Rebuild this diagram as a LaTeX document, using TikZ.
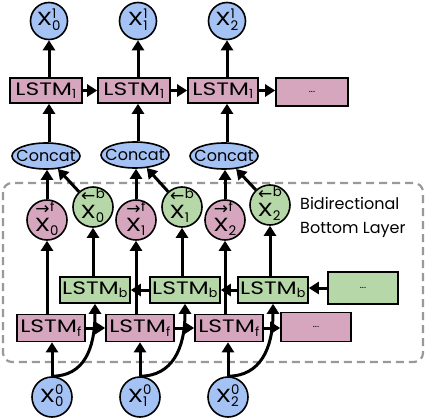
\documentclass[tikz,border=0pt]{standalone}
\usepackage{fontspec}
\setmainfont{Poppins}
\newfontfamily\djv{DejaVu Sans}
\usepackage{amsmath}
\usetikzlibrary{arrows.meta,shapes.geometric}
\definecolor{cblue}{HTML}{A4C2F4}
\definecolor{cpink}{HTML}{D5A6BD}
\definecolor{cgreen}{HTML}{B6D7A8}
\definecolor{cgray}{HTML}{999999}
\newcommand{\XX}{\text{\scalebox{1.3}[1]{X}}}
\newcommand{\inside}[2]{\raisebox{-#1}[0pt][0pt]{\makebox[0pt]{#2}}}
\newcommand{\xl}[3]{$#1^{\text{#2}}_{\text{#3}}$}
\newcommand{\arX}[1]{\shortstack{{\djv\fontsize{17}{17}\selectfont #1}\\\XX}}
\newcommand{\xr}{\text{\arX{→}}}
\newcommand{\xb}{\text{\arX{←}}}
\newcommand{\lstm}[1]{\scalebox{1.3}[1]{LSTM}$_{\text{#1}}$}
\begin{document}
\begin{tikzpicture}[x=1pt,y=-1pt,
  every node/.style={font=\fontsize{16}{24}\selectfont, inner sep=0pt},
  circ/.style={circle,draw,line width=1.6pt,minimum size=38pt,font=\fontsize{19}{22}\selectfont},
  bluec/.style={circ,fill=cblue},
  pinkc/.style={circ,fill=cpink},
  greenc/.style={circ,fill=cgreen},
  box/.style={draw,line width=1.6pt,rectangle,minimum width=72pt,minimum height=25pt,font=\fontsize{18}{22}\selectfont},
  pinkb/.style={box,fill=cpink},
  greenb/.style={box,fill=cgreen},
  cat/.style={ellipse,draw,line width=1.6pt,fill=cblue,inner xsep=-10pt,inner ysep=-3pt,minimum width=68pt,minimum height=26pt},
  arr/.style={line width=3pt,-{Triangle[length=10pt,width=12pt]}},
]
\useasboundingbox (0,0) rectangle (426,420);
% dashed region
\draw[cgray, line width=2.2pt, dash pattern=on 8pt off 5pt, rounded corners=9pt] (3,183) rectangle (423,362);

% top outputs
\node[bluec,minimum size=37pt] (t0) at (49,21) {\inside{5pt}{\xl{\XX}{1}{0}}};
\node[bluec,minimum size=37pt] (t1) at (138,21) {\inside{5pt}{\xl{\XX}{1}{1}}};
\node[bluec,minimum size=37pt] (t2) at (227,21) {\inside{5pt}{\xl{\XX}{1}{2}}};

% LSTM1 row
\node[pinkb] (l10) at (46,90.5) {\lstm{1}};
\node[pinkb] (l11) at (134,90.5) {\lstm{1}};
\node[pinkb,minimum width=70pt] (l12) at (223,90.5) {\lstm{1}};
\node[pinkb,minimum height=28pt] (l13) at (312,92) {\fontsize{10}{12}\selectfont ...};

% concat
\node[cat] (c0) at (46,156) {Concat};
\node[cat] (c1) at (135,155) {Concat};
\node[cat] (c2) at (224,156) {Concat};

% forward / backward states
\node[pinkc,minimum size=40pt] (f0) at (47,220) {\inside{11pt}{\xl{\xr}{f}{0}}};
\node[greenc,minimum size=40pt] (b0) at (93,207) {\inside{11pt}{\xl{\xb}{b}{0}}};
\node[pinkc,minimum size=40pt] (f1) at (136,220) {\inside{11pt}{\xl{\xr}{f}{1}}};
\node[greenc,minimum size=40pt] (b1) at (182,207) {\inside{11pt}{\xl{\xb}{b}{1}}};
\node[pinkc,minimum size=40pt] (f2) at (225,220) {\inside{11pt}{\xl{\xr}{f}{2}}};
\node[greenc,minimum size=40pt] (b2) at (270,205) {\inside{11pt}{\xl{\xb}{b}{2}}};

\node[anchor=west,align=left] (lbl) at (300,217) {Bidirectional\\Bottom Layer};

% backward LSTM row
\node[greenb,minimum width=70pt,minimum height=26pt] (lb0) at (95,290) {\lstm{b}};
\node[greenb,minimum width=70pt,minimum height=26pt] (lb1) at (185,290) {\lstm{b}};
\node[greenb,minimum width=70pt,minimum height=26pt] (lb2) at (273,290) {\lstm{b}};
\node[greenb,minimum width=70pt,minimum height=32pt] (lb3) at (363,288) {\fontsize{10}{12}\selectfont ...};

% forward LSTM row
\node[pinkb,minimum width=68pt,minimum height=27pt] (lf0) at (51,328) {\lstm{f}};
\node[pinkb,minimum width=68pt,minimum height=27pt] (lf1) at (140,328) {\lstm{f}};
\node[pinkb,minimum width=68pt,minimum height=27pt] (lf2) at (229,328) {\lstm{f}};
\node[pinkb,minimum width=70pt,minimum height=29pt] (lf3) at (316,327) {\fontsize{10}{12}\selectfont ...};

% inputs
\node[bluec,minimum size=40pt] (x0) at (52,397) {\inside{5pt}{\xl{\XX}{0}{0}}};
\node[bluec,minimum size=40pt] (x1) at (140,397) {\inside{5pt}{\xl{\XX}{0}{1}}};
\node[bluec,minimum size=40pt] (x2) at (228,397) {\inside{5pt}{\xl{\XX}{0}{2}}};

% connectors
\foreach \i in {0,1,2}{
  \draw[arr] (x\i.north) -- (x\i.north |- lf\i.south);
  \draw[arr] (x\i.north) .. controls +(32,0) and +(0,45) .. (lb\i.south);
  \draw[arr] (lf\i.north -| f\i) -- (f\i);
  \draw[arr] (lb\i.north -| b\i) -- (b\i);
  \draw[arr] (f\i) -- (f\i |- c\i.south);
  \draw[arr] (b\i) -- (c\i);
  \draw[arr] (c\i.north -| t\i) -- (t\i |- l1\i.south);
  \draw[arr] (l1\i.north -| t\i) -- (t\i);
}
\draw[arr] (l10.east) -- (l10.east -| l11.west);
\draw[arr] (l11.east) -- (l11.east -| l12.west);
\draw[arr] (l12.east) -- (l12.east -| l13.west);
\draw[arr] (lf0.east) -- (lf0.east -| lf1.west);
\draw[arr] (lf1.east) -- (lf1.east -| lf2.west);
\draw[arr] (lf2.east) -- (lf2.east -| lf3.west);
\draw[arr] (lb1.west) -- (lb1.west -| lb0.east);
\draw[arr] (lb2.west) -- (lb2.west -| lb1.east);
\draw[arr] (lb3.west) -- (lb3.west -| lb2.east);
\end{tikzpicture}
\end{document}
